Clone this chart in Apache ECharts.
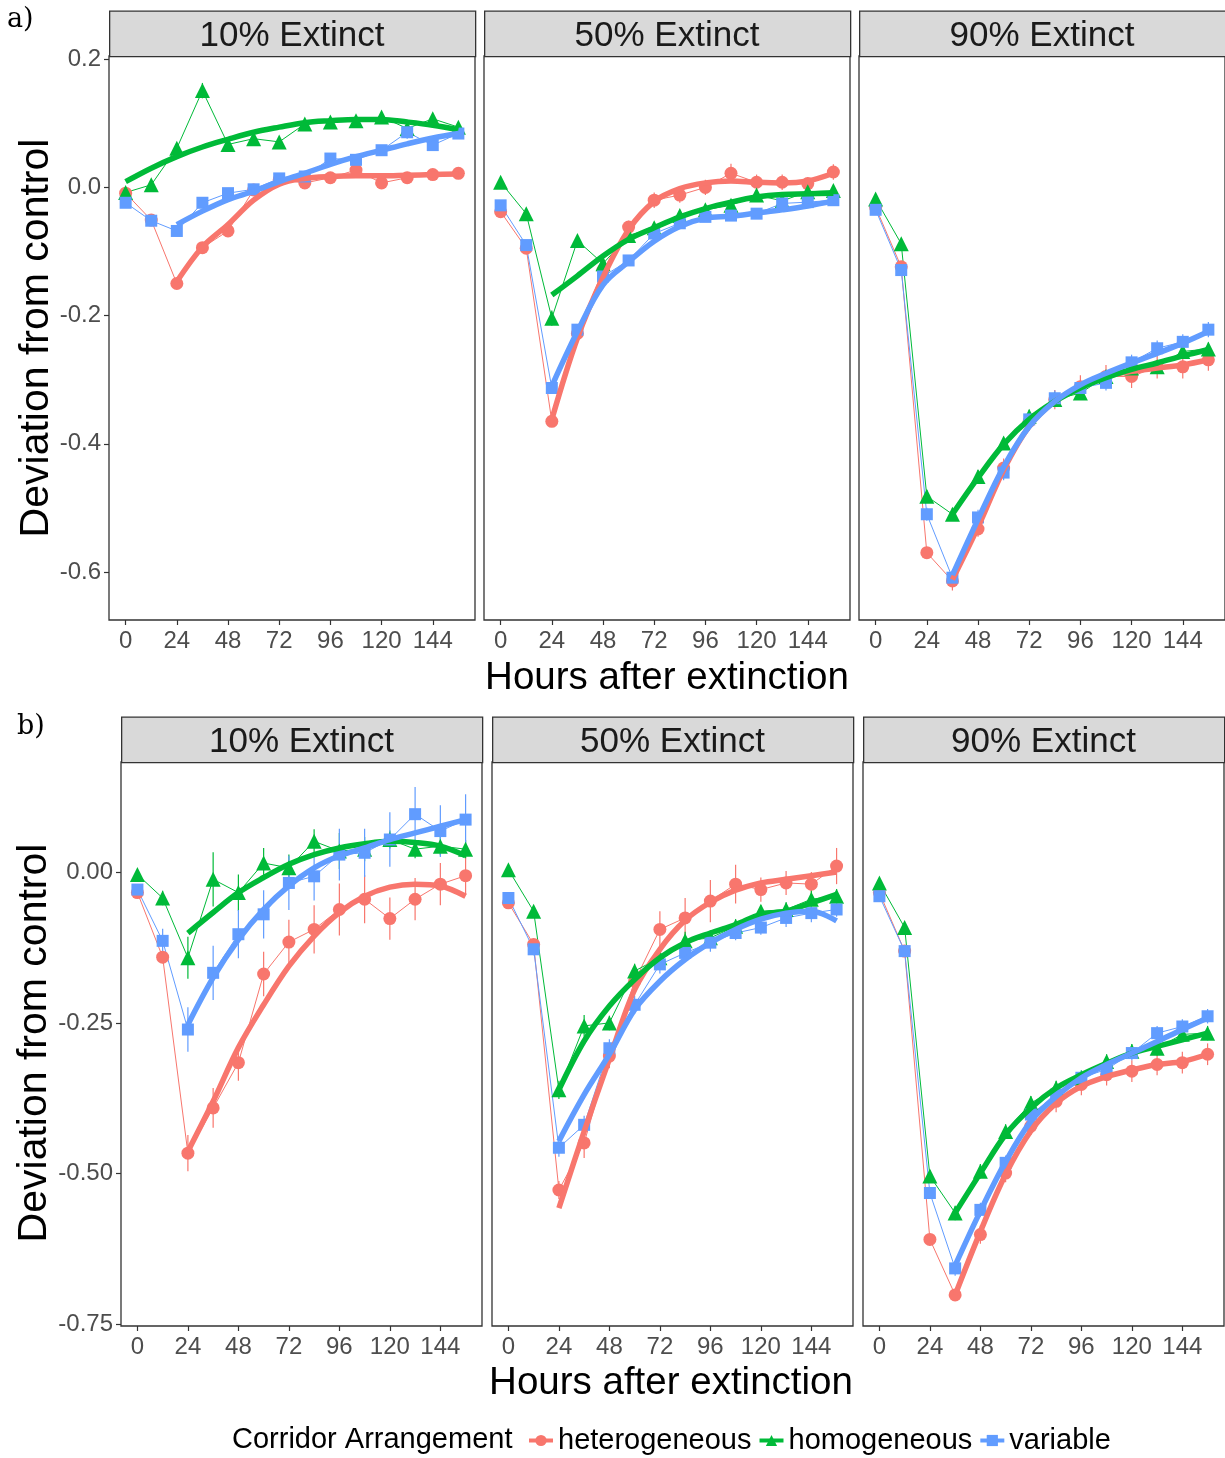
<!DOCTYPE html>
<html>
<head>
<meta charset="utf-8">
<script src="https://cdn.jsdelivr.net/npm/echarts@6/dist/echarts.min.js"></script>
<style>
  html, body { margin: 0; padding: 0; background: #fff; }
  #chart { width: 1225px; height: 1458px; }
</style>
</head>
<body>
<div id="chart"></div>
<script>
'use strict';

var hours = [0, 12, 24, 36, 48, 60, 72, 84, 96, 108, 120, 132, 144, 156];
var groups = ['heterogeneous', 'homogeneous', 'variable'];
var panelTitles = ['10% Extinct', '50% Extinct', '90% Extinct'];
var xTicks = [0, 24, 48, 72, 96, 120, 144];
var yTicksA = [-0.6, -0.4, -0.2, 0.0, 0.2];
var yTicksB = [-0.75, -0.5, -0.25, 0.0];

// a) 10% extinct
var a10Het    = [-0.009, -0.051, -0.150, -0.094, -0.068, -0.004, 0.012, 0.007, 0.015, 0.027, 0.007, 0.015, 0.020, 0.022];
var a10HetSe  = [0.005, 0.006, 0.008, 0.008, 0.008, 0.006, 0.008, 0.006, 0.006, 0.008, 0.008, 0.006, 0.006, 0.005];
var a10HetFit = [null, null, -0.147, -0.093, -0.058, -0.020, 0.005, 0.014, 0.017, 0.018, 0.018, 0.019, 0.020, 0.021];
var a10Hom    = [-0.008, 0.004, 0.061, 0.151, 0.067, 0.076, 0.071, 0.099, 0.102, 0.104, 0.110, 0.092, 0.107, 0.094];
var a10HomSe  = [0.005, 0.006, 0.008, 0.012, 0.008, 0.006, 0.006, 0.006, 0.006, 0.006, 0.006, 0.008, 0.008, 0.006];
var a10HomFit = [0.009, 0.030, 0.048, 0.063, 0.075, 0.086, 0.094, 0.101, 0.104, 0.106, 0.106, 0.102, 0.097, 0.090];
var a10Var    = [-0.024, -0.052, -0.068, -0.024, -0.009, -0.003, 0.014, 0.017, 0.045, 0.043, 0.058, 0.086, 0.066, 0.084];
var a10VarSe  = [0.005, 0.006, 0.008, 0.008, 0.008, 0.008, 0.008, 0.008, 0.008, 0.008, 0.008, 0.010, 0.008, 0.008];
var a10VarFit = [null, null, -0.058, -0.037, -0.019, -0.006, 0.009, 0.022, 0.036, 0.048, 0.058, 0.068, 0.077, 0.084];

// a) 50% extinct
var a50Het    = [-0.038, -0.095, -0.365, -0.228, -0.129, -0.062, -0.020, -0.012, 0.000, 0.022, 0.008, 0.008, 0.006, 0.024];
var a50HetSe  = [0.005, 0.006, 0.008, 0.010, 0.010, 0.010, 0.012, 0.012, 0.012, 0.015, 0.012, 0.012, 0.010, 0.012];
var a50HetFit = [null, null, -0.362, -0.235, -0.140, -0.066, -0.022, -0.002, 0.007, 0.010, 0.008, 0.007, 0.010, 0.022];
var a50Hom    = [0.008, -0.041, -0.204, -0.083, -0.119, -0.075, -0.063, -0.044, -0.035, -0.028, -0.012, -0.021, -0.007, -0.005];
var a50HomSe  = [0.005, 0.006, 0.012, 0.008, 0.008, 0.008, 0.008, 0.008, 0.008, 0.008, 0.008, 0.008, 0.008, 0.008];
var a50HomFit = [null, null, -0.168, -0.138, -0.107, -0.081, -0.063, -0.046, -0.033, -0.023, -0.015, -0.011, -0.010, -0.009];
var a50Var    = [-0.028, -0.090, -0.313, -0.222, -0.139, -0.114, -0.072, -0.056, -0.046, -0.044, -0.041, -0.025, -0.023, -0.020];
var a50VarSe  = [0.005, 0.006, 0.008, 0.008, 0.008, 0.008, 0.008, 0.008, 0.008, 0.008, 0.008, 0.008, 0.008, 0.008];
var a50VarFit = [null, null, -0.310, -0.225, -0.152, -0.116, -0.084, -0.061, -0.048, -0.045, -0.040, -0.035, -0.029, -0.021];

// a) 90% extinct
var a90Het    = [-0.031, -0.124, -0.570, -0.614, -0.533, -0.438, -0.365, -0.331, -0.311, -0.295, -0.295, -0.280, -0.280, -0.269];
var a90HetSe  = [0.005, 0.006, 0.008, 0.015, 0.012, 0.015, 0.015, 0.015, 0.018, 0.018, 0.018, 0.018, 0.018, 0.017];
var a90HetFit = [null, null, null, -0.612, -0.530, -0.441, -0.373, -0.334, -0.311, -0.295, -0.287, -0.282, -0.277, -0.269];
var a90Hom    = [-0.018, -0.088, -0.482, -0.510, -0.451, -0.399, -0.357, -0.331, -0.321, -0.295, -0.282, -0.280, -0.256, -0.252];
var a90HomSe  = [0.005, 0.006, 0.010, 0.010, 0.010, 0.010, 0.010, 0.010, 0.010, 0.010, 0.010, 0.010, 0.010, 0.010];
var a90HomFit = [null, null, null, -0.510, -0.453, -0.401, -0.362, -0.334, -0.313, -0.297, -0.284, -0.274, -0.263, -0.253];
var a90Var    = [-0.035, -0.129, -0.510, -0.609, -0.515, -0.445, -0.362, -0.329, -0.313, -0.305, -0.273, -0.251, -0.241, -0.222];
var a90VarSe  = [0.005, 0.006, 0.010, 0.012, 0.012, 0.012, 0.012, 0.012, 0.012, 0.012, 0.012, 0.012, 0.012, 0.012];
var a90VarFit = [null, null, null, -0.605, -0.518, -0.436, -0.373, -0.334, -0.308, -0.290, -0.274, -0.259, -0.243, -0.225];

// b) 10% extinct
var b10Het    = [-0.034, -0.141, -0.466, -0.391, -0.316, -0.169, -0.116, -0.095, -0.062, -0.045, -0.077, -0.045, -0.020, -0.006];
var b10HetSe  = [0.008, 0.010, 0.030, 0.033, 0.030, 0.037, 0.037, 0.040, 0.043, 0.040, 0.035, 0.035, 0.035, 0.032];
var b10HetFit = [null, null, -0.463, -0.380, -0.291, -0.220, -0.156, -0.106, -0.067, -0.040, -0.025, -0.020, -0.023, -0.040];
var b10Hom    = [-0.004, -0.043, -0.142, -0.012, -0.034, 0.015, 0.007, 0.051, 0.035, 0.038, 0.054, 0.038, 0.043, 0.038];
var b10HomSe  = [0.005, 0.012, 0.035, 0.045, 0.030, 0.025, 0.022, 0.020, 0.030, 0.020, 0.015, 0.015, 0.015, 0.015];
var b10HomFit = [null, null, -0.101, -0.067, -0.034, -0.009, 0.013, 0.029, 0.040, 0.047, 0.051, 0.049, 0.043, 0.027];
var b10Var    = [-0.029, -0.114, -0.261, -0.167, -0.103, -0.070, -0.018, -0.007, 0.029, 0.032, 0.054, 0.096, 0.068, 0.087];
var b10VarSe  = [0.005, 0.020, 0.037, 0.045, 0.040, 0.040, 0.045, 0.040, 0.043, 0.040, 0.045, 0.045, 0.043, 0.042];
var b10VarFit = [null, null, -0.253, -0.175, -0.112, -0.062, -0.023, 0.007, 0.027, 0.040, 0.054, 0.065, 0.076, 0.087];

// b) 50% extinct
var b50Het    = [-0.051, -0.120, -0.527, -0.449, -0.305, -0.181, -0.095, -0.076, -0.048, -0.020, -0.029, -0.018, -0.020, 0.010];
var b50HetSe  = [0.005, 0.008, 0.015, 0.025, 0.020, 0.020, 0.030, 0.033, 0.035, 0.032, 0.020, 0.020, 0.020, 0.030];
var b50HetFit = [null, null, -0.557, -0.430, -0.310, -0.195, -0.128, -0.080, -0.050, -0.030, -0.018, -0.012, -0.006, 0.000];
var b50Hom    = [0.004, -0.065, -0.361, -0.255, -0.250, -0.164, -0.142, -0.114, -0.109, -0.090, -0.065, -0.062, -0.045, -0.040];
var b50HomSe  = [0.004, 0.008, 0.015, 0.018, 0.012, 0.012, 0.015, 0.015, 0.012, 0.012, 0.010, 0.012, 0.015, 0.012];
var b50HomFit = [null, null, -0.361, -0.280, -0.222, -0.178, -0.142, -0.117, -0.101, -0.087, -0.070, -0.065, -0.051, -0.037];
var b50Var    = [-0.043, -0.128, -0.457, -0.419, -0.292, -0.220, -0.153, -0.134, -0.117, -0.101, -0.092, -0.076, -0.068, -0.062];
var b50VarSe  = [0.004, 0.010, 0.015, 0.015, 0.015, 0.015, 0.015, 0.015, 0.015, 0.012, 0.012, 0.015, 0.015, 0.012];
var b50VarFit = [null, null, -0.446, -0.369, -0.302, -0.228, -0.181, -0.145, -0.117, -0.095, -0.078, -0.068, -0.065, -0.081];

// b) 90% extinct
var b90Het    = [-0.034, -0.131, -0.609, -0.701, -0.601, -0.499, -0.421, -0.380, -0.352, -0.336, -0.330, -0.319, -0.316, -0.302];
var b90HetSe  = [0.005, 0.006, 0.010, 0.010, 0.015, 0.015, 0.015, 0.018, 0.018, 0.018, 0.018, 0.018, 0.018, 0.018];
var b90HetFit = [null, null, null, -0.701, -0.596, -0.501, -0.429, -0.383, -0.355, -0.339, -0.328, -0.319, -0.314, -0.302];
var b90Hom    = [-0.018, -0.092, -0.504, -0.565, -0.496, -0.430, -0.383, -0.358, -0.341, -0.314, -0.297, -0.292, -0.269, -0.267];
var b90HomSe  = [0.005, 0.006, 0.010, 0.012, 0.012, 0.012, 0.012, 0.012, 0.012, 0.012, 0.012, 0.012, 0.012, 0.012];
var b90HomFit = [null, null, null, -0.565, -0.499, -0.435, -0.391, -0.358, -0.336, -0.317, -0.300, -0.289, -0.278, -0.267];
var b90Var    = [-0.040, -0.131, -0.532, -0.657, -0.560, -0.482, -0.402, -0.369, -0.341, -0.327, -0.300, -0.267, -0.256, -0.239];
var b90VarSe  = [0.005, 0.006, 0.010, 0.012, 0.012, 0.012, 0.012, 0.012, 0.012, 0.012, 0.012, 0.012, 0.012, 0.012];
var b90VarFit = [null, null, null, -0.652, -0.562, -0.480, -0.413, -0.372, -0.341, -0.319, -0.300, -0.281, -0.261, -0.242];

var panels = [
	{ mean: [a10Het, a10Hom, a10Var], se: [a10HetSe, a10HomSe, a10VarSe], fit: [a10HetFit, a10HomFit, a10VarFit] },
	{ mean: [a50Het, a50Hom, a50Var], se: [a50HetSe, a50HomSe, a50VarSe], fit: [a50HetFit, a50HomFit, a50VarFit] },
	{ mean: [a90Het, a90Hom, a90Var], se: [a90HetSe, a90HomSe, a90VarSe], fit: [a90HetFit, a90HomFit, a90VarFit] },
	{ mean: [b10Het, b10Hom, b10Var], se: [b10HetSe, b10HomSe, b10VarSe], fit: [b10HetFit, b10HomFit, b10VarFit] },
	{ mean: [b50Het, b50Hom, b50Var], se: [b50HetSe, b50HomSe, b50VarSe], fit: [b50HetFit, b50HomFit, b50VarFit] },
	{ mean: [b90Het, b90Hom, b90Var], se: [b90HetSe, b90HomSe, b90VarSe], fit: [b90HetFit, b90HomFit, b90VarFit] }
];

var colors = ['#F8766D', '#00BA38', '#619CFF'];
var symbols = ['circle', 'triangle', 'rect'];
var symbolSizes = [13, 15, 12];
var font = '"Liberation Sans", Arial, sans-serif';
var borderColor = '#333333';

// layout of the six panels
var rows = [
	{ top: 56, height: 564, lefts: [109, 484, 859], width: 366, yMin: -0.675, yMax: 0.205, yTicks: yTicksA, digits: 1 },
	{ top: 762, height: 564, lefts: [121, 492, 863], width: 361, yMin: -0.7525, yMax: 0.1825, yTicks: yTicksB, digits: 2 }
];

var chart = echarts.init(document.getElementById('chart'), null, { renderer: 'canvas' });

var grids = [], xAxes = [], yAxes = [], graphics = [];
var pointSeries = [], barSeries = [], fitSeries = [];

rows.forEach(function (row, r) {
	row.lefts.forEach(function (left, c) {
		var idx = r * 3 + c;
		grids.push({
			left: left, top: row.top, width: row.width, height: row.height,
			show: true, borderColor: borderColor, borderWidth: 1.3, backgroundColor: 'transparent'
		});
		xAxes.push({
			type: 'value', gridIndex: idx, min: -7.8, max: 163.8, position: 'bottom',
			axisLine: { show: false, onZero: false },
			axisTick: { show: true, length: 5, customValues: xTicks, lineStyle: { color: borderColor, width: 1.2 } },
			axisLabel: { customValues: xTicks, fontSize: 24, color: '#4D4D4D', margin: 9, fontFamily: font },
			splitLine: { show: false }
		});
		yAxes.push({
			type: 'value', gridIndex: idx, min: row.yMin, max: row.yMax, position: 'left',
			axisLine: { show: false, onZero: false },
			axisTick: { show: c === 0, length: 5, customValues: row.yTicks, lineStyle: { color: borderColor, width: 1.2 } },
			axisLabel: {
				show: c === 0, customValues: row.yTicks, fontSize: 24, color: '#4D4D4D', margin: 8, fontFamily: font,
				formatter: (function (d) { return function (v) { return (+v).toFixed(d); }; })(row.digits)
			},
			splitLine: { show: false }
		});
		// facet strip
		graphics.push({
			type: 'rect', left: left, top: row.top - 45.5,
			shape: { width: row.width, height: 45.5 },
			style: { fill: '#D9D9D9', stroke: borderColor, lineWidth: 1.3 }
		});
		graphics.push({
			type: 'text', x: left + row.width / 2, y: row.top - 20,
			style: {
				text: panelTitles[c], fontSize: 35, fontFamily: font, fill: '#1A1A1A',
				textAlign: 'center', textVerticalAlign: 'middle', align: 'center', verticalAlign: 'middle'
			}
		});

		var p = panels[idx];
		groups.forEach(function (name, g) {
			var m = p.mean[g], s = p.se[g], f = p.fit[g];
			pointSeries.push({
				type: 'line', name: name, xAxisIndex: idx, yAxisIndex: idx,
				data: hours.map(function (h, i) { return [h, m[i]]; }),
				symbol: symbols[g], symbolSize: symbolSizes[g], showSymbol: true,
				itemStyle: { color: colors[g] },
				lineStyle: { color: colors[g], width: 1 },
				z: 3, silent: true, animation: false
			});
			barSeries.push({
				type: 'custom', name: name, xAxisIndex: idx, yAxisIndex: idx,
				data: hours.map(function (h, i) { return [h, m[i] - s[i], m[i] + s[i]]; }),
				encode: { x: 0, y: [1, 2] },
				renderItem: function (params, api) {
					var lo = api.coord([api.value(0), api.value(1)]);
					var hi = api.coord([api.value(0), api.value(2)]);
					return {
						type: 'line',
						shape: { x1: lo[0], y1: lo[1], x2: hi[0], y2: hi[1] },
						style: { stroke: colors[g], lineWidth: 1.2 }
					};
				},
				z: 2, silent: true, animation: false
			});
			fitSeries.push({
				type: 'line', name: name, xAxisIndex: idx, yAxisIndex: idx,
				data: hours.map(function (h, i) { return [h, f[i]]; }).filter(function (d) { return d[1] !== null; }),
				smooth: 0.35, showSymbol: false, symbol: 'none',
				lineStyle: { color: colors[g], width: 5.5 },
				z: 4, silent: true, animation: false
			});
		});
	});
});

// axis titles and panel letters
graphics.push(
	{ type: 'text', x: 37, y: 338, rotation: Math.PI / 2,
		style: { text: 'Deviation from control', fontSize: 41, fontFamily: font, fill: '#000',
			textAlign: 'center', textVerticalAlign: 'middle', align: 'center', verticalAlign: 'middle' } },
	{ type: 'text', x: 35, y: 1043, rotation: Math.PI / 2,
		style: { text: 'Deviation from control', fontSize: 41, fontFamily: font, fill: '#000',
			textAlign: 'center', textVerticalAlign: 'middle', align: 'center', verticalAlign: 'middle' } },
	{ type: 'text', x: 667, y: 678,
		style: { text: 'Hours after extinction', fontSize: 38.5, fontFamily: font, fill: '#000',
			textAlign: 'center', textVerticalAlign: 'middle', align: 'center', verticalAlign: 'middle' } },
	{ type: 'text', x: 671, y: 1383,
		style: { text: 'Hours after extinction', fontSize: 38.5, fontFamily: font, fill: '#000',
			textAlign: 'center', textVerticalAlign: 'middle', align: 'center', verticalAlign: 'middle' } },
	{ type: 'text', x: 7, y: 20,
		style: { text: 'a)', fontSize: 27, fontFamily: '"DejaVu Serif", serif', fill: '#000',
			textAlign: 'left', textVerticalAlign: 'middle', align: 'left', verticalAlign: 'middle' } },
	{ type: 'text', x: 17, y: 727,
		style: { text: 'b)', fontSize: 27, fontFamily: '"DejaVu Serif", serif', fill: '#000',
			textAlign: 'left', textVerticalAlign: 'middle', align: 'left', verticalAlign: 'middle' } },
	{ type: 'text', x: 232, y: 1440,
		style: { text: 'Corridor Arrangement', fontSize: 29, fontFamily: font, fill: '#000',
			textAlign: 'left', textVerticalAlign: 'middle', align: 'left', verticalAlign: 'middle' } }
);

var option = {
	backgroundColor: '#ffffff',
	animation: false,
	grid: grids,
	xAxis: xAxes,
	yAxis: yAxes,
	legend: {
		data: groups,
		left: 522, top: 1421,
		itemWidth: 24, itemHeight: 14, itemGap: 6,
		lineStyle: { width: 4 },
		textStyle: { fontSize: 29, fontFamily: font, color: '#000' },
		selectedMode: false
	},
	graphic: graphics,
	series: pointSeries.concat(barSeries, fitSeries)
};

chart.setOption(option);
</script>
</body>
</html>
